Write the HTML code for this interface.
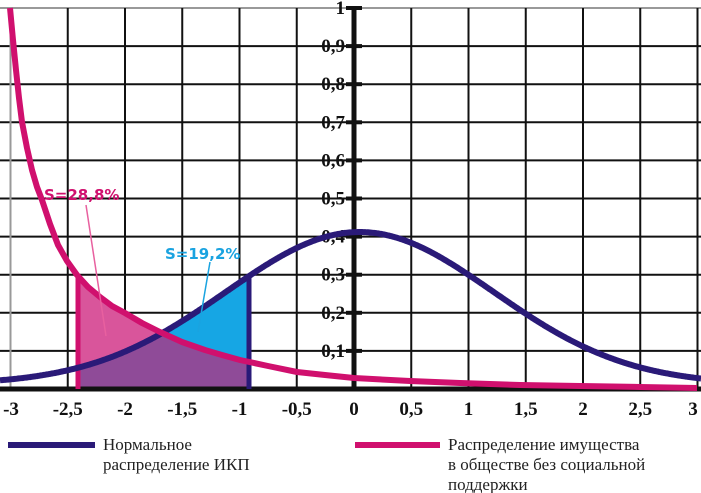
<!DOCTYPE html><html><head><meta charset="utf-8"><style>
body{margin:0;background:#fff;width:701px;height:493px;overflow:hidden}
svg{display:block}
text{font-family:"Liberation Serif",serif;font-weight:bold;font-size:19px;fill:#111}
.lg{font-weight:normal;font-size:17px;fill:#222}
.an{font-family:"DejaVu Sans","Liberation Sans",sans-serif;font-size:15px}
</style></head><body>
<svg id="s" width="701" height="493" viewBox="0 0 701 493"></svg>
<script>
const NS="http://www.w3.org/2000/svg",s=document.getElementById('s');
function el(t,a,txt){const e=document.createElementNS(NS,t);for(const k in a)e.setAttribute(k,a[k]);if(txt!=null)e.textContent=txt;s.appendChild(e);return e;}
const X=v=>354+114.5*v, Y=v=>389-381*v;
for(let i=1;i<=9;i++)el('line',{x1:0,x2:701,y1:Y(i/10),y2:Y(i/10),stroke:'#111','stroke-width':2});
el('line',{x1:0,x2:701,y1:Y(1),y2:Y(1),stroke:'#999','stroke-width':2});
for(let v=-2.5;v<=3.01;v+=0.5){if(Math.abs(v)<0.01)continue;el('line',{x1:X(v),x2:X(v),y1:Y(1),y2:389,stroke:'#111','stroke-width':2});}
el('line',{x1:X(-3),x2:X(-3),y1:Y(1),y2:389,stroke:'#999','stroke-width':2});
const pk=[[10,8],[13,40],[16,70],[19,98],[22,122],[27,148],[32,170],[37,187],[42,200],[50,224],[58,245],[67,261],[77,275],[88,287],[100,297],[112,306],[125,313],[142,323],[160,332],[182,342],[205,350],[222,355],[240,360],[268,366],[297,372],[325,375],[354,378],[410,381],[460,383],[520,385],[580,386],[640,387],[697,388]];
function pkY(x){for(let i=0;i<pk.length-1;i++){if(x<=pk[i+1][0]){const t=(x-pk[i][0])/(pk[i+1][0]-pk[i][0]);return pk[i][1]+t*(pk[i+1][1]-pk[i][1]);}}return pk[pk.length-1][1];}
function nvY(x){const v=(x-354)/114.5-0.05;return Y(0.40*Math.exp(-v*v/(2*1.17*1.17))+0.012);}
const x0=78,x1=249;
function area(f){let d=`M${x0},389`;for(let x=x0;x<=x1;x++)d+=`L${x},${f(x).toFixed(1)}`;return d+`L${x1},389Z`;}
el('path',{d:area(pkY),fill:'#d9559b'});
el('path',{d:area(nvY),fill:'#16a6e4'});
el('path',{d:area(x=>Math.max(pkY(x),nvY(x))),fill:'#8f4b98'});
el('line',{x1:354,x2:354,y1:6,y2:391,stroke:'#111','stroke-width':5});
el('line',{x1:0,x2:701,y1:389,y2:389,stroke:'#111','stroke-width':5});
for(let i=1;i<=10;i++){el('line',{x1:346,x2:362,y1:Y(i/10),y2:Y(i/10),stroke:'#111','stroke-width':4});
 el('text',{x:345,y:Y(i/10)+6,'text-anchor':'end'},i==10?'1':'0,'+i);}
const xl=['-3','-2,5','-2','-1,5','-1','-0,5','0','0,5','1','1,5','2','2,5','3'];
xl.forEach((t,i)=>{let x=X(-3+i*0.5);if(i==0)x=11;if(i==12)x=693;el('text',{x:x,y:415,'text-anchor':'middle'},t);});
el('line',{x1:x0,x2:x0,y1:389,y2:pkY(x0),stroke:'#d0106e','stroke-width':5});
el('line',{x1:x1,x2:x1,y1:389,y2:nvY(x1),stroke:'#2a1a78','stroke-width':5});
let dn='';for(let x=0;x<=701;x++)dn+=(x?'L':'M')+x+','+nvY(x).toFixed(1);
el('path',{d:dn,fill:'none',stroke:'#2a1a78','stroke-width':6});
let dp='';pk.forEach((p,i)=>dp+=(i?'L':'M')+p[0]+','+p[1]);
el('path',{d:dp,fill:'none',stroke:'#d0106e','stroke-width':6,'stroke-linejoin':'round'});
el('line',{x1:86,y1:205,x2:106,y2:336,stroke:'#e8609f','stroke-width':1.5});
el('text',{x:44,y:200,class:'an',style:'fill:#d0106e'},'S=28,8%');
el('line',{x1:210,y1:262,x2:198,y2:332,stroke:'#1aa3e0','stroke-width':1.5});
el('text',{x:165,y:259,class:'an',style:'fill:#1aa3e0'},'S=19,2%');
el('line',{x1:8,x2:95,y1:445,y2:445,stroke:'#2a1a78','stroke-width':6});
el('text',{x:103,y:450,class:'lg'},'Нормальное');
el('text',{x:103,y:470,class:'lg'},'распределение ИКП');
el('line',{x1:355,x2:440,y1:445,y2:445,stroke:'#d0106e','stroke-width':6});
el('text',{x:448,y:450,class:'lg'},'Распределение имущества');
el('text',{x:448,y:470,class:'lg'},'в обществе без социальной');
el('text',{x:448,y:490,class:'lg'},'поддержки');
</script>
</body></html>
